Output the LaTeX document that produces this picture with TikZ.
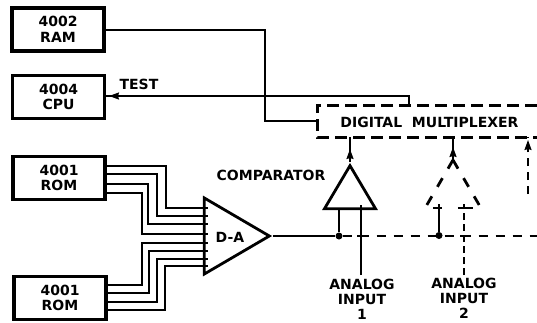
\documentclass[tikz,border=0pt]{standalone}
\usepackage{fontspec}
\setmainfont{DejaVu Sans}
\usepackage{tikz}
\usetikzlibrary{arrows.meta,shapes.geometric}
\begin{document}
\begin{tikzpicture}[
      x=1pt, y=-1pt,
      chip/.style={rectangle, draw, line width=3.3pt, minimum width=92pt, minimum height=43pt,
                   align=center, inner sep=0pt, font=\fontsize{14}{15.5}\selectfont\bfseries},
      lbl/.style={align=center, inner sep=0pt, font=\fontsize{14}{15}\selectfont\bfseries},
      tri/.style={isosceles triangle, isosceles triangle stretches, inner sep=0pt, line width=2.8pt},
      wire/.style={line width=1.1pt},
      sig/.style={line width=1.6pt},
      dsh/.style={line width=1.6pt, dash pattern=on 9pt off 8pt},
      jdot/.style={circle, fill, inner sep=0pt, minimum size=7pt},
      tip/.style={-{Stealth[length=10pt,width=7pt,inset=1pt]}, line width=1.6pt}
    ]
      \useasboundingbox (0,0) rectangle (537,322);

      % Chips
      \node[chip] (ram) at (58,29.5) {4002\\RAM};
      \node[chip] (cpu) at (58.5,97) {4004\\CPU};
      \node[chip] (romA) at (59,178) {4001\\ROM};
      \node[chip] (romB) at (60,298) {4001\\ROM};

      % D-A
      \node[tri, draw, minimum height=65pt, minimum width=76pt, anchor=apex] (da) at (273,236) {};
      \node[lbl] (dalbl) at (230,237) {D-A};

      % Comparators
      \node[tri, draw, shape border rotate=90, minimum height=43pt, minimum width=51pt, anchor=apex] (cmpA) at (350,162) {};
      \node[tri, shape border rotate=90, minimum height=43pt, minimum width=51pt, anchor=apex] (cmpB) at (453,160) {};
      \node[lbl] (cmplbl) at (271,175) {COMPARATOR};
      \draw[line width=2.8pt, dash pattern=on 10pt off 11pt] (cmpB.apex) -- (cmpB.left corner);
      \draw[line width=2.8pt, dash pattern=on 10pt off 11pt] (cmpB.apex) -- (cmpB.right corner);
      \draw[line width=2.8pt] (cmpB.left corner) ++(8,0) -- ++(9,0);
      \draw[line width=2.8pt] (cmpB.right corner) ++(-23,0) -- ++(15,0);

      % Multiplexer
      \node[lbl] (mux) at (429.5,122.5) {DIGITAL\ \ MULTIPLEXER};
      \coordinate (muxTL) at (317,105);
      \coordinate (muxBL) at (317,137);
      \coordinate (muxTR) at (537,105);
      \coordinate (muxBR) at (537,137);
      \draw[line width=3pt, dash pattern=on 12pt off 6pt] (muxTR) -- (muxTL) -- (muxBL) -- (muxBR);

      % Labels
      \node[lbl] (test) at (139,84) {TEST};
      \node[lbl] (inA) at (362,299.5) {ANALOG\\INPUT\\1};
      \node[lbl] (inB) at (464,298.5) {ANALOG\\INPUT\\2};

      % ROM wires
      \foreach \ya/\xb/\yb in {166/166/208, 174/157/216, 184/148/224, 193/142/234}
        \draw[wire] (romA.east |- 0,\ya) -| (\xb,\yb) -- (208,\yb);
      \foreach \ya/\xb/\yb in {285/142/243, 293/149/251, 302/157/259, 310/165/266}
        \draw[wire] (romB.east |- 0,\ya) -| (\xb,\yb) -- (208,\yb);

      % RAM, TEST
      \draw[wire] (ram.east |- 0,30) -| (265,121) -- (muxBL |- 0,121);
      \coordinate (testR) at (409,96);
      \draw[wire] (muxTL -| testR) -- (testR) -- (cpu.east |- testR);
      \draw[tip] (122,96) -- (109,96);

      % Analog bus
      \node[jdot] (jA) at (339,236) {};
      \node[jdot] (jB) at (439,235.5) {};
      \coordinate (busR) at (537,236);
      \draw[sig] (da.apex) -- (jA);
      \draw[dsh] (jA) -- (busR);

      % Comparator inputs
      \draw[sig] (jA) -- (jA |- cmpA.left corner);
      \draw[sig] (361,275) -- (361,205);
      \draw[sig] (jB) -- (439,204);
      \draw[line width=1.3pt, dash pattern=on 7pt off 4pt] (464,275) -- (464,204);
      \draw[sig] (357,236) -- (365,236);
      \draw[sig] (460,236) -- (468,236);

      % Outputs to multiplexer
      \draw[sig] (cmpA.apex) -- (cmpA.apex |- muxBL);
      \draw[tip] (cmpA.apex) ++(0,-1) -- ++(0,-12);
      \draw[sig] (cmpB.apex) -- (cmpB.apex |- muxBL);
      \draw[tip] (cmpB.apex) ++(0,-1) -- ++(0,-12);
      \draw[line width=1.3pt, dash pattern=on 8pt off 6pt] (528,194) -- (528,137);
      \draw[tip] (528,152) -- (528,140);
\end{tikzpicture}
\end{document}
